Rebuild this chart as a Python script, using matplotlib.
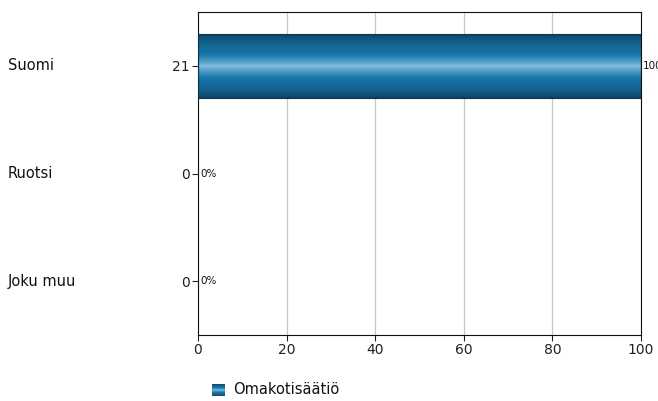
import numpy as np
import matplotlib.pyplot as plt
from matplotlib.colors import LinearSegmentedColormap
from matplotlib.transforms import blended_transform_factory, offset_copy

categories = ['Suomi', 'Ruotsi', 'Joku muu']
counts = [21, 0, 0]
percents = [100, 0, 0]
series_name = 'Omakotisäätiö'
xticks = [0, 20, 40, 60, 80, 100]

plt.rcParams['font.family'] = ['DejaVu Sans']

fig = plt.figure(figsize=(6.58, 4.01), dpi=100)
ax = fig.add_axes([198 / 658, 1 - 335 / 401, 443 / 658, 323 / 401])

# gradient used for the bar fill
cmap = LinearSegmentedColormap.from_list('bar', [
    (0.0, '#0c4566'), (0.12, '#135f8a'), (0.32, '#1877ab'),
    (0.45, '#5ea6cc'), (0.5, '#84bddb'), (0.55, '#5ea6cc'),
    (0.68, '#1877ab'), (0.88, '#135f8a'), (1.0, '#0c4566')])
grad = np.linspace(0, 1, 256).reshape(-1, 1)

y = np.arange(len(categories))
bar_h = 0.59
bars = ax.barh(y, percents, height=bar_h, color='none', edgecolor='#0a3550', linewidth=0.8, zorder=3)
for b, p in zip(bars, percents):
    if p <= 0:
        b.set_linewidth(0)
        continue
    x0, y0 = b.get_x(), b.get_y()
    img = ax.imshow(grad, cmap=cmap, aspect='auto', extent=[x0, x0 + b.get_width(), y0 + b.get_height(), y0],
                    zorder=2, interpolation='bilinear')
    img.set_clip_path(b)

ax.set_xlim(0, 100)
ax.set_ylim(len(categories) - 0.5, -0.5)
ax.set_xticks(xticks)
ax.set_xticklabels([str(t) for t in xticks], fontsize=10, color='#222222')
ax.set_yticks(y)
ax.set_yticklabels([str(c) for c in counts], fontsize=10, color='#222222')
ax.tick_params(axis='both', direction='out', length=4, width=0.8, color='#222222', pad=2)
ax.grid(axis='x', color='#c8c8c8', linewidth=0.9, zorder=0)
ax.set_axisbelow(True)
for s in ax.spines.values():
    s.set_linewidth(0.8)
    s.set_color('#111111')

# category names at left edge of figure
trans = blended_transform_factory(fig.transFigure, ax.transData)
for yi, cat in zip(y, categories):
    fig.text(8 / 658, yi, cat, transform=trans, ha='left', va='center', fontsize=10.5, color='#111111')

# percent labels (the 100% one runs off the right edge, as in the original)
lab_trans = offset_copy(ax.transData, fig=fig, x=2, y=0, units='dots')
for yi, p in zip(y, percents):
    ax.text(p, yi, f'{p}%', transform=lab_trans, ha='left', va='center', fontsize=7.5, color='#111111', clip_on=False)

# legend
lax = fig.add_axes([212 / 658, 1 - 396 / 401, 13 / 658, 12 / 401])
lax.imshow(grad, cmap=cmap, aspect='auto', interpolation='bilinear')
lax.set_xticks([])
lax.set_yticks([])
for s in lax.spines.values():
    s.set_visible(False)
fig.text(233 / 658, 1 - 390 / 401, series_name, ha='left', va='center', fontsize=10.5, color='#111111')

fig.savefig('out.png', dpi=100)
